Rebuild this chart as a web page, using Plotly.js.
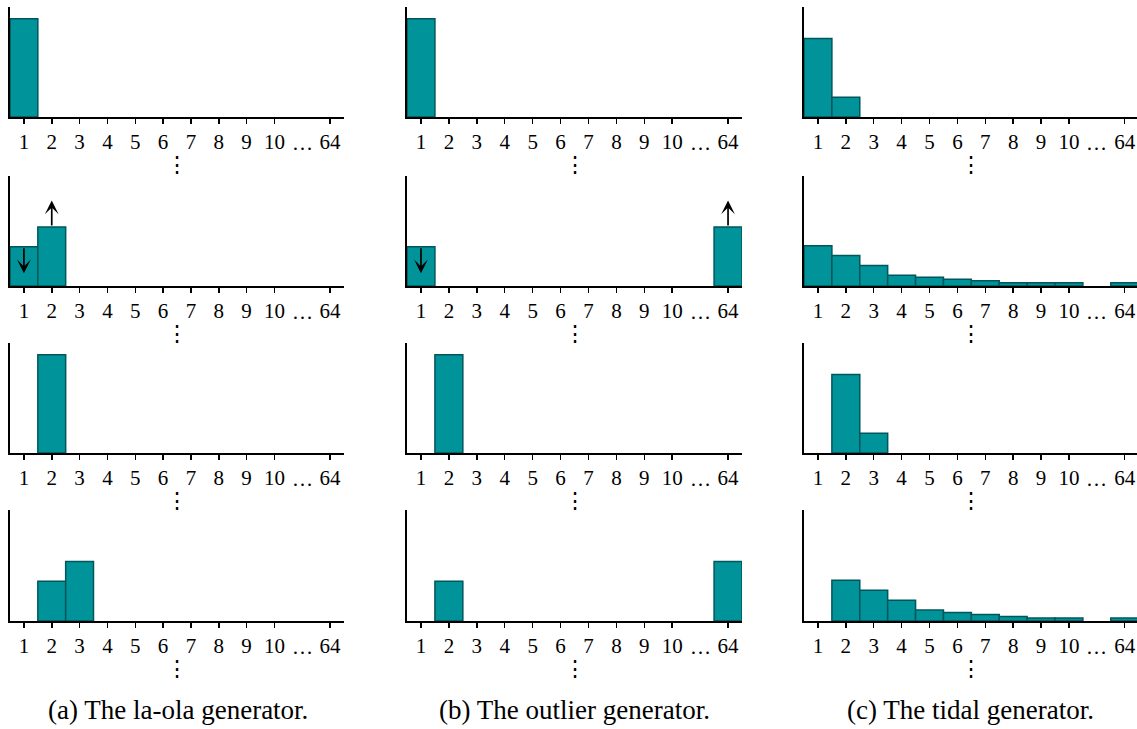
<!DOCTYPE html>
<html>
<head>
<meta charset="utf-8">
<script src="https://cdn.plot.ly/plotly-3.0.1.min.js"></script>
<style>html,body{margin:0;padding:0;background:#fff;}#chart{width:1137px;height:729px;}</style>
</head>
<body>
<div id="chart"></div>
<script>
// ---- data ----
const categories = ['1','2','3','4','5','6','7','8','9','10','…','64'];
const tickLabels = ['1','2','3','4','5','6','7','8','9','10','64'];
const ellipsisLabel = '…';

// la-ola generator (column a), rows top to bottom
const laola1 = [1.0, 0, 0, 0, 0, 0, 0, 0, 0, 0, null, 0];
const laola2 = [0.4, 0.6, 0, 0, 0, 0, 0, 0, 0, 0, null, 0];
const laola3 = [0, 1.0, 0, 0, 0, 0, 0, 0, 0, 0, null, 0];
const laola4 = [0, 0.4, 0.6, 0, 0, 0, 0, 0, 0, 0, null, 0];

// outlier generator (column b)
const outlier1 = [1.0, 0, 0, 0, 0, 0, 0, 0, 0, 0, null, 0];
const outlier2 = [0.4, 0, 0, 0, 0, 0, 0, 0, 0, 0, null, 0.6];
const outlier3 = [0, 1.0, 0, 0, 0, 0, 0, 0, 0, 0, null, 0];
const outlier4 = [0, 0.4, 0, 0, 0, 0, 0, 0, 0, 0, null, 0.6];

// tidal generator (column c)
const tidal1 = [0.8, 0.2, 0, 0, 0, 0, 0, 0, 0, 0, null, 0];
const tidal2 = [0.41, 0.31, 0.21, 0.11, 0.09, 0.07, 0.054, 0.034, 0.034, 0.034, null, 0.034];
const tidal3 = [0, 0.8, 0.2, 0, 0, 0, 0, 0, 0, 0, null, 0];
const tidal4 = [0, 0.41, 0.31, 0.21, 0.11, 0.085, 0.065, 0.045, 0.03, 0.03, null, 0.03];

// arrows: [panel (column-major), category, direction (+1 up / -1 down)]
const arrowSpecs = [
  [1, '1', -1], [1, '2', 1],
  [5, '1', -1], [5, '64', 1]
];

const captions = ['(a) The la-ola generator.', '(b) The outlier generator.', '(c) The tidal generator.'];

// ---- layout geometry ----
const W = 1137, H = 729;
const colDomains = [[10/W, 344/W], [407/W, 742/W], [804/W, 1.0]];
const colRanges = [[-0.5, 11.5], [-0.5, 11.5], [-0.5, 11.44]];
const rowPx = [[7, 117], [176, 286], [343, 453], [510, 621]];
const rowDomains = rowPx.map(r => [1 - r[1]/H, 1 - r[0]/H]);
const yMax = 1.12;

const panelOrderColMajor = [
  [laola1, laola2, laola3, laola4],
  [outlier1, outlier2, outlier3, outlier4],
  [tidal1, tidal2, tidal3, tidal4]
];

const fill = '#00939a';
const edge = '#00575b';
const serif = 'Liberation Serif, DejaVu Serif, serif';
const tickFont = {family: serif, size: 21, color: '#000'};

const traces = [];
const layout = {
  width: W, height: H,
  margin: {l: 0, r: 0, t: 0, b: 0},
  paper_bgcolor: '#fff', plot_bgcolor: 'rgba(0,0,0,0)',
  showlegend: false,
  bargap: 0,
  annotations: [],
  font: tickFont
};

let n = 0;
for (let c = 0; c < 3; c++) {
  for (let r = 0; r < 4; r++) {
    n++;
    const xs = n === 1 ? 'x' : 'x' + n;
    const ys = n === 1 ? 'y' : 'y' + n;
    const xk = n === 1 ? 'xaxis' : 'xaxis' + n;
    const yk = n === 1 ? 'yaxis' : 'yaxis' + n;
    // zero-height bars are not drawn in the reference
    const vals = panelOrderColMajor[c][r].map(v => (v ? v : null));
    traces.push({
      type: 'bar', x: categories, y: vals,
      xaxis: xs, yaxis: ys,
      marker: {color: fill, line: {color: edge, width: 1.5}},
      hoverinfo: 'skip', cliponaxis: false
    });
    layout[xk] = {
      domain: colDomains[c], anchor: ys,
      type: 'category', categoryorder: 'array', categoryarray: categories,
      range: colRanges[c],
      tickmode: 'array', tickvals: tickLabels, ticktext: tickLabels,
      ticks: 'outside', ticklen: 5, tickwidth: 1.5, tickcolor: '#000',
      showline: true, linecolor: '#000', linewidth: 2,
      showgrid: false, zeroline: false, fixedrange: true,
      tickfont: tickFont, tickangle: 0
    };
    layout[yk] = {
      domain: rowDomains[r], anchor: xs,
      range: [0, yMax],
      showline: true, linecolor: '#000', linewidth: 2,
      showticklabels: false, ticks: '', showgrid: false, zeroline: false, fixedrange: true
    };
    // "…" label between 10 and 64
    layout.annotations.push({
      xref: xs, yref: ys + ' domain', x: 10, y: -0.105,
      text: ellipsisLabel, showarrow: false, yanchor: 'top', xanchor: 'center',
      font: tickFont
    });
    // vertical ellipsis below each panel
    layout.annotations.push({
      xref: xs, yref: ys + ' domain', x: 5.5, y: -0.43,
      text: '⋮', showarrow: false, yanchor: 'middle', xanchor: 'center',
      font: {family: 'DejaVu Serif, serif', size: 22, color: '#000'}
    });
  }
}

// arrows
arrowSpecs.forEach(([p, cat, dir]) => {
  const col = Math.floor(p / 4), row = p % 4;
  const idx = p + 1;
  const xs = idx === 1 ? 'x' : 'x' + idx;
  const ys = idx === 1 ? 'y' : 'y' + idx;
  const vals = panelOrderColMajor[col][row];
  const ci = categories.indexOf(cat);
  const tail = vals[ci];
  const head = tail + dir * 0.27;
  layout.annotations.push({
    xref: xs, yref: ys, axref: xs, ayref: ys,
    x: ci, y: head, ax: ci, ay: tail,
    showarrow: true, arrowhead: 3, arrowsize: 1.35, arrowwidth: 1.7, arrowcolor: '#000',
    text: ''
  });
});

// captions
const capCenters = [178/W, 574/W, 970/W];
captions.forEach((t, i) => {
  layout.annotations.push({
    xref: 'paper', yref: 'paper', x: capCenters[i], y: 1 - 710/H,
    text: t, showarrow: false, xanchor: 'center', yanchor: 'middle',
    font: {family: serif, size: 27, color: '#000'}
  });
});

Plotly.newPlot('chart', traces, layout, {staticPlot: true, displayModeBar: false});
</script>
</body>
</html>
